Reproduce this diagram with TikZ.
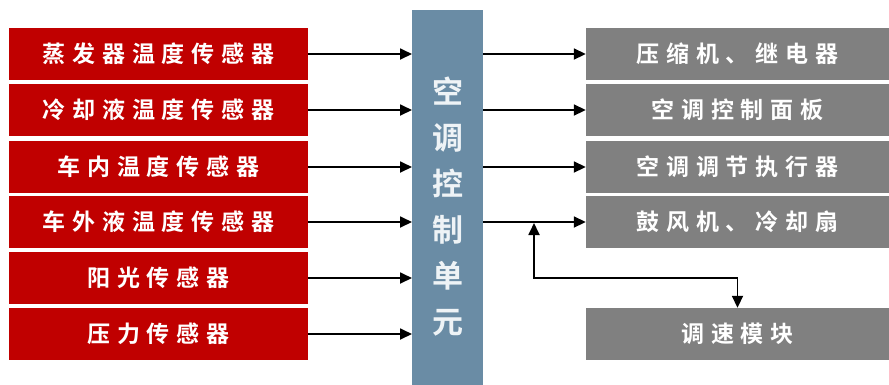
\documentclass[tikz,border=0pt]{standalone}
\usepackage{fontspec}
\usetikzlibrary{arrows.meta}
\newfontfamily\cjk[LetterSpace=30]{Noto Sans CJK SC Bold}
\newfontfamily\cjkbar{Noto Sans CJK SC Bold}
\definecolor{sensred}{HTML}{C00000}
\definecolor{outgray}{HTML}{808080}
\definecolor{ctrlblue}{HTML}{6A8CA5}
\definecolor{bartext}{HTML}{EEF3F6}
\tikzset{
  sensor/.style={draw=none, fill=sensred, text=white, minimum width=299pt, minimum height=52pt, inner sep=0pt, font=\cjk\fontsize{23pt}{26pt}\selectfont},
  output/.style={draw=none, fill=outgray, text=white, minimum width=303pt, minimum height=52pt, inner sep=0pt, font=\cjk\fontsize{23pt}{26pt}\selectfont},
  conn/.style={line width=1.8pt, -{Triangle[length=12pt,width=11pt]}},
  biconn/.style={line width=1.8pt, {Triangle[length=12pt,width=11pt]}-{Triangle[length=12pt,width=11pt]}}
}
\begin{document}
\begin{tikzpicture}[x=1pt,y=-1pt]
\useasboundingbox (0,0) rectangle (889,384);
\clip (0,0) rectangle (889,384);
\fill[white] (0,0) rectangle (889,384);
% control unit
\node[draw=none, fill=ctrlblue, minimum width=71pt, minimum height=390pt, inner sep=0pt, anchor=north west] (cu) at (412,10) {};
\node[text=bartext, align=center, font=\cjkbar\fontsize{31pt}{46pt}\selectfont, anchor=center] (cut) at (447.5,207) {空\\调\\控\\制\\单\\元};
% sensors
\node[sensor] (r1) at (158.5,54) {蒸发器温度传感器};
\node[sensor] (r2) at (158.5,110) {冷却液温度传感器};
\node[sensor] (r3) at (158.5,167) {车内温度传感器};
\node[sensor] (r4) at (158.5,222) {车外液温度传感器};
\node[sensor] (r5) at (158.5,278) {阳光传感器};
\node[sensor] (r6) at (158.5,334) {压力传感器};
% outputs
\node[output] (g1) at (737.5,54) {压缩机、继电器};
\node[output] (g2) at (737.5,110) {空调控制面板};
\node[output] (g3) at (737.5,167) {空调调节执行器};
\node[output] (g4) at (737.5,222) {鼓风机、冷却扇};
\node[output] (g5) at (737.5,334) {调速模块};
% inputs
\foreach \i in {1,...,6} {
  \draw[conn] (r\i.east) -- (r\i.east -| cu.west);
}
\foreach \i in {1,...,4} {
  \draw[conn] (g\i.west -| cu.east) -- (g\i.west);
}
\coordinate (j) at (534,223);
\coordinate (k) at (534,278);
\draw[biconn] (j) -- (k) -| (g5.north);
\end{tikzpicture}
\end{document}
